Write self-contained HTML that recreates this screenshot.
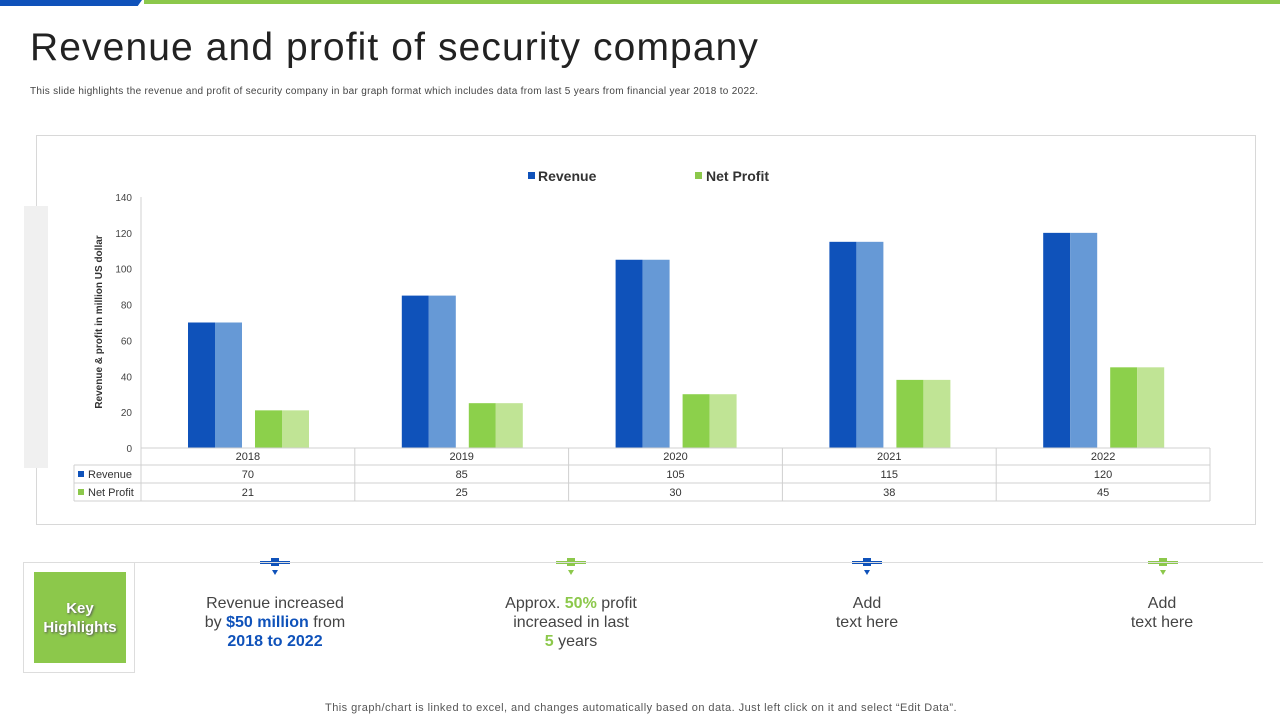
<!DOCTYPE html>
<html><head><meta charset="utf-8">
<style>
body{margin:0;width:1280px;height:720px;overflow:hidden;background:#fff;font-family:"Liberation Sans",sans-serif;position:relative}
.abs{position:absolute}
</style></head><body>
<div class="abs" style="left:0;top:0;width:142px;height:6px;background:#0f52ba;clip-path:polygon(0 0,100% 0,97% 100%,0 100%)"></div>
<div class="abs" style="left:144px;top:0;width:1136px;height:4px;background:#8cc84b"></div>
<div class="abs" style="left:30px;top:26px;font-size:39px;color:#222;letter-spacing:1.1px">Revenue and profit of security company</div>
<div class="abs" style="left:30px;top:86px;font-size:10px;color:#444;letter-spacing:0.3px">This slide highlights the revenue and profit of security company in bar graph format which includes data from last 5 years from financial year 2018 to 2022.</div>
<div class="abs" style="left:36px;top:135px;width:1218px;height:388px;border:1px solid #d8d8d8"></div>
<div class="abs" style="left:24px;top:206px;width:24px;height:262px;background:#f0f0f0"></div>
<svg class="abs" style="left:0;top:0" width="1280" height="720" id="chart"></svg>
<div class="abs" style="left:23px;top:562px;width:1240px;height:110px;border-top:1px solid #ddd"></div>
<div class="abs" style="left:23px;top:562px;width:110px;height:110px;border:1px solid #ddd;border-top:none"></div>
<div class="abs" style="left:34px;top:572px;width:92px;height:91px;background:#8cc84b;color:#fff;font-weight:bold;font-size:15px;text-align:center;display:flex;align-items:center;justify-content:center;text-shadow:1px 1px 2px #555;line-height:19px">Key<br>Highlights</div>
<div class="abs" style="left:175px;top:594px;width:200px;text-align:center;font-size:16px;color:#444;line-height:19px">Revenue increased<br>by <b style="color:#0f52ba">$50 million</b> from<br><b style="color:#0f52ba">2018 to 2022</b></div>
<div class="abs" style="left:471px;top:594px;width:200px;text-align:center;font-size:16px;color:#444;line-height:19px">Approx. <b style="color:#8cc84b">50%</b> profit<br>increased in last<br><b style="color:#8cc84b">5</b> years</div>
<div class="abs" style="left:767px;top:594px;width:200px;text-align:center;font-size:16px;color:#444;line-height:19px">Add<br>text here</div>
<div class="abs" style="left:1062px;top:594px;width:200px;text-align:center;font-size:16px;color:#444;line-height:19px">Add<br>text here</div>
<div class="abs" style="left:0;top:702px;width:1282px;text-align:center;font-size:11px;color:#555;letter-spacing:0.45px">This graph/chart is linked to excel, and changes automatically based on data. Just left click on it and select “Edit Data”.</div>
<script>
const categories=["2018","2019","2020","2021","2022"];
const revenue=[70,85,105,115,120];
const profit=[21,25,30,38,45];
const ticks=[0,20,40,60,80,100,120,140];
const svg=document.getElementById('chart');
const NS='http://www.w3.org/2000/svg';
const x0=141,x1=1210,yTop=197,yBot=448,yMax=140;
const cw=(x1-x0)/categories.length;
const y=v=>yBot-(v/yMax)*(yBot-yTop);
function el(t,a,txt){const e=document.createElementNS(NS,t);for(const k in a)e.setAttribute(k,a[k]);if(txt!=null)e.textContent=txt;svg.appendChild(e);return e;}
let e;
e=el('line',{x1:x0,y1:yTop,x2:x0,y2:yBot,stroke:'#d0d0d0'});


ticks.forEach(t=>{
 e=el('text',{x:132,y:y(t)+4,'text-anchor':'end','font-size':10,fill:'#444','font-family':'Liberation Sans'},t);
 
 
});
e=el('text',{x:0,y:0,transform:'translate(102,322) rotate(-90)','text-anchor':'middle','font-size':10,'font-weight':'bold',fill:'#333','font-family':'Liberation Sans'},'Revenue & profit in million US dollar');


e=el('rect',{x:528,y:172,width:7,height:7,fill:'#0f52ba'});


e=el('text',{x:538,y:181,'font-size':14,'font-weight':'bold',fill:'#333','font-family':'Liberation Sans'},'Revenue');


e=el('rect',{x:695,y:172,width:7,height:7,fill:'#8cc84b'});


e=el('text',{x:706,y:181,'font-size':14,'font-weight':'bold',fill:'#333','font-family':'Liberation Sans'},'Net Profit');


categories.forEach((c,i)=>{
 const cx=x0+i*cw;
 const rx=cx+47, px=cx+114, bw=27;
 e=el('rect',{x:rx,y:y(revenue[i]),width:bw,height:yBot-y(revenue[i]),fill:'#0f52ba'});
 
 
 e=el('rect',{x:rx+bw,y:y(revenue[i]),width:bw,height:yBot-y(revenue[i]),fill:'#6699d6'});
 
 
 e=el('rect',{x:px,y:y(profit[i]),width:bw,height:yBot-y(profit[i]),fill:'#8cd04b'});
 
 
 e=el('rect',{x:px+bw,y:y(profit[i]),width:bw,height:yBot-y(profit[i]),fill:'#c0e495'});
 
 
});
const rows=[yBot,465,483,501];
rows.forEach(ry=>{e=el('line',{x1:ry===yBot?x0:74,y1:ry,x2:x1,y2:ry,stroke:'#d0d0d0'});
 
 });
e=el('line',{x1:74,y1:465,x2:74,y2:501,stroke:'#d0d0d0'});


for(let i=0;i<=categories.length;i++){
 e=el('line',{x1:x0+i*cw,y1:yBot,x2:x0+i*cw,y2:501,stroke:'#d0d0d0'});
 
 
}
[['Revenue','#0f52ba',revenue,478],['Net Profit','#8cc84b',profit,496]].forEach(r=>{
 e=el('rect',{x:78,y:r[3]-7,width:6,height:6,fill:r[1]});
 
 
 e=el('text',{x:88,y:r[3],'font-size':11,fill:'#333','font-family':'Liberation Sans'},r[0]);
 
 
 r[2].forEach((v,i)=>{
  e=el('text',{x:x0+(i+.5)*cw,y:r[3],'text-anchor':'middle','font-size':11,fill:'#333','font-family':'Liberation Sans'},v);
  
  
 });
});
categories.forEach((c,i)=>{
 e=el('text',{x:x0+(i+.5)*cw,y:460,'text-anchor':'middle','font-size':11,fill:'#333','font-family':'Liberation Sans'},c);
 
 
});
[[275,'#0f52ba'],[571,'#8cc84b'],[867,'#0f52ba'],[1163,'#8cc84b']].forEach(m=>{
 e=el('rect',{x:m[0]-15,y:561,width:30,height:3,fill:m[1]});
 
 
 e=el('rect',{x:m[0]-4,y:558,width:8,height:8,fill:m[1]});
 
 
 e=el('polygon',{points:`${m[0]-3},570 ${m[0]+3},570 ${m[0]},575`,fill:m[1]});
 
 
});
</script>
</body></html>
